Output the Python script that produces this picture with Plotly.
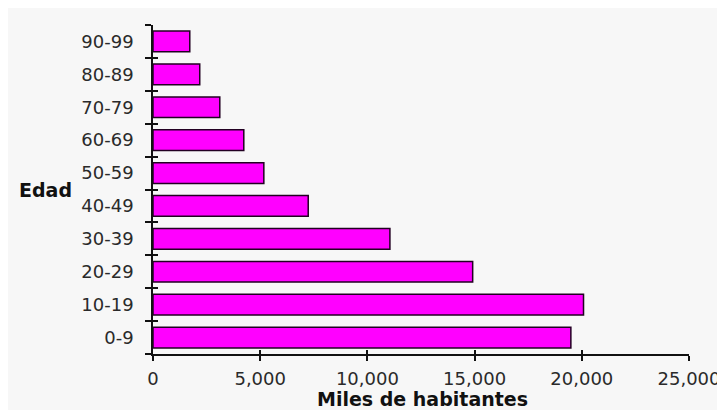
import plotly.graph_objects as go

categories = ["0-9", "10-19", "20-29", "30-39", "40-49", "50-59", "60-69", "70-79", "80-89", "90-99"]
values = [19490, 20080, 14910, 11050, 7240, 5170, 4235, 3115, 2180, 1715]
x_tickvals = [0, 5000, 10000, 15000, 20000, 25000]
x_ticktext = ["0", "5,000", "10,000", "15,000", "20,000", "25,000"]
y_title = "Edad"
x_title = "Miles de habitantes"

# page body has an 8px margin, so the figure is drawn 8px in from the top-left
W, H = 717, 402
L, R, T, B = 145, 36, 17, 56
pw, ph = W - L - R, H - T - B

tickfont = dict(family="DejaVu Sans", size=18, color="#2a2a2a")

fig = go.Figure()
fig.add_trace(go.Bar(
    y=categories, x=values, orientation="h",
    marker=dict(color="#ff00ff", line=dict(color="#220022", width=1.5)),
    showlegend=False, hoverinfo="skip",
))
# invisible trace for overlay axes (inner half of crossing ticks)
fig.add_trace(go.Scatter(x=[None], y=[None], xaxis="x2", yaxis="y2",
                         mode="markers", showlegend=False, hoverinfo="skip"))

fig.update_layout(
    width=W, height=H,
    margin=dict(l=L, r=R, t=T, b=B, pad=0),
    paper_bgcolor="#f7f7f7",
    plot_bgcolor="#f7f7f7",
    bargap=0.37,
    xaxis=dict(
        range=[0, 25000], tickvals=x_tickvals, ticktext=x_ticktext,
        showgrid=False, zeroline=False, showline=True, linecolor="#111111", linewidth=1.5,
        ticks="outside", ticklen=5, tickwidth=1.5, tickcolor="#111111",
        tickfont=tickfont, ticklabelstandoff=3, fixedrange=True, automargin=False,
    ),
    yaxis=dict(
        type="category", categoryorder="array", categoryarray=categories,
        showgrid=False, zeroline=False, showline=True, linecolor="#111111", linewidth=1.5,
        ticks="outside", ticklen=6, tickwidth=1.5, tickcolor="#111111", tickson="boundaries",
        tickfont=tickfont, ticklabelstandoff=14, fixedrange=True, automargin=False,
    ),
    xaxis2=dict(
        overlaying="x", anchor="y", range=[0, 25000], tickvals=x_tickvals,
        showticklabels=False, showgrid=False, zeroline=False, showline=False,
        ticks="inside", ticklen=4, tickwidth=1.5, tickcolor="#111111",
    ),
    yaxis2=dict(
        overlaying="y", anchor="x", side="left", range=[-0.5, len(categories) - 0.5],
        tickvals=[i - 0.5 for i in range(len(categories) + 1)],
        showticklabels=False, showgrid=False, zeroline=False, showline=False,
        ticks="inside", ticklen=5, tickwidth=1.5, tickcolor="#111111",
    ),
    annotations=[
        dict(text="<b>" + y_title + "</b>", xref="paper", yref="paper",
             x=(37.5 - L) / pw, y=0.5, xanchor="center", yanchor="middle",
             showarrow=False, font=dict(family="DejaVu Sans", size=19, color="#111111")),
        dict(text="<b>" + x_title + "</b>", xref="paper", yref="paper",
             x=(414 - L) / pw, y=-(391 - T - ph) / ph, xanchor="center", yanchor="middle",
             showarrow=False, font=dict(family="DejaVu Sans", size=19, color="#111111")),
    ],
)

fig.write_html("out.html")
